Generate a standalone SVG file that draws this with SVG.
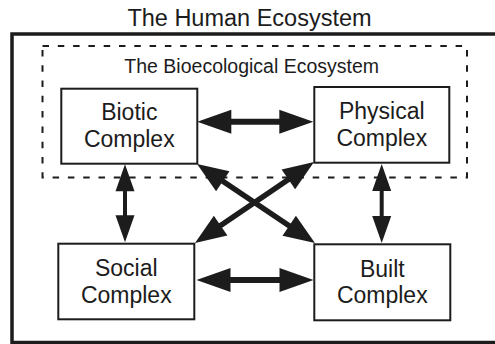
<svg xmlns="http://www.w3.org/2000/svg" width="495" height="344" viewBox="0 0 495 344">
  <style>
    text { font-family: "Liberation Sans", Arial, Helvetica, sans-serif; fill: #1c1c1c; text-anchor: middle; }
    .title { font-size: 23.5px; }
    .sub { font-size: 19.5px; }
    .label { font-size: 23px; }
    .box { fill: #ffffff; stroke: #1c1c1c; stroke-width: 2; }
    .outer { fill: none; stroke: #1c1c1c; stroke-width: 3.5; }
    .dashed { fill: none; stroke: #1c1c1c; stroke-width: 2; stroke-dasharray: 6.5 8.8; }
    .shaft-h { stroke: #1c1c1c; stroke-width: 6; marker-start: url(#headH); marker-end: url(#headH); }
    .shaft-v { stroke: #1c1c1c; stroke-width: 4; marker-start: url(#headV); marker-end: url(#headV); }
    .shaft-d { stroke: #1c1c1c; stroke-width: 5.5; marker-start: url(#headD); marker-end: url(#headD); }
  </style>
  <defs>
    <marker id="headH" markerUnits="userSpaceOnUse" markerWidth="34" markerHeight="24" refX="14" refY="12" orient="auto-start-reverse" overflow="visible">
      <path d="M0,0 L34,12 L0,24 Z" fill="#1c1c1c"/>
    </marker>
    <marker id="headV" markerUnits="userSpaceOnUse" markerWidth="27" markerHeight="19" refX="12" refY="9.5" orient="auto-start-reverse" overflow="visible">
      <path d="M0,0 L27,9.5 L0,19 Z" fill="#1c1c1c"/>
    </marker>
    <marker id="headD" markerUnits="userSpaceOnUse" markerWidth="31" markerHeight="24" refX="16" refY="12" orient="auto-start-reverse" overflow="visible">
      <path d="M0,0 L31,12 L0,24 Z" fill="#1c1c1c"/>
    </marker>
  </defs>

  <rect width="495" height="344" fill="#ffffff"/>

  <!-- outer frame: the human ecosystem -->
  <g id="human-ecosystem">
    <text class="title" x="249.5" y="26">The Human Ecosystem</text>
    <rect class="outer" x="12" y="34" width="500" height="308.5"/>
  </g>

  <!-- dashed frame: the bioecological ecosystem -->
  <g id="bioecological-ecosystem">
    <rect class="dashed" x="42.5" y="46" width="424.5" height="131.5"/>
    <text class="sub" x="251.7" y="72.7">The Bioecological Ecosystem</text>
  </g>

  <g id="biotic">
    <rect class="box" x="61.3" y="88.7" width="136" height="75"/>
    <text class="label" x="129.3" y="120">Biotic</text>
    <text class="label" x="129.3" y="146.7">Complex</text>
  </g>

  <g id="physical">
    <rect class="box" x="314.3" y="87" width="135" height="75.7"/>
    <text class="label" x="381.8" y="119">Physical</text>
    <text class="label" x="381.8" y="145.7">Complex</text>
  </g>

  <g id="social">
    <rect class="box" x="58.3" y="243.7" width="136" height="75.6"/>
    <text class="label" x="126.3" y="276">Social</text>
    <text class="label" x="126.3" y="302.7">Complex</text>
  </g>

  <g id="built">
    <rect class="box" x="314.3" y="244.3" width="136" height="76"/>
    <text class="label" x="382.3" y="276.7">Built</text>
    <text class="label" x="382.3" y="303.3">Complex</text>
  </g>

  <!-- two-way links between the four complexes -->
  <g id="connectors">
    <line class="shaft-h" x1="217.3" y1="121.7" x2="293.3" y2="121.7"/>
    <line class="shaft-h" x1="216.5" y1="280" x2="293.5" y2="280"/>
    <line class="shaft-v" x1="125" y1="179.3" x2="125" y2="227.3"/>
    <line class="shaft-v" x1="381.7" y1="179" x2="381.7" y2="228"/>
    <line class="shaft-d" x1="209.5" y1="172.3" x2="302.5" y2="234.7"/>
    <line class="shaft-d" x1="301.6" y1="170.4" x2="207.4" y2="234.6"/>
  </g>
</svg>
